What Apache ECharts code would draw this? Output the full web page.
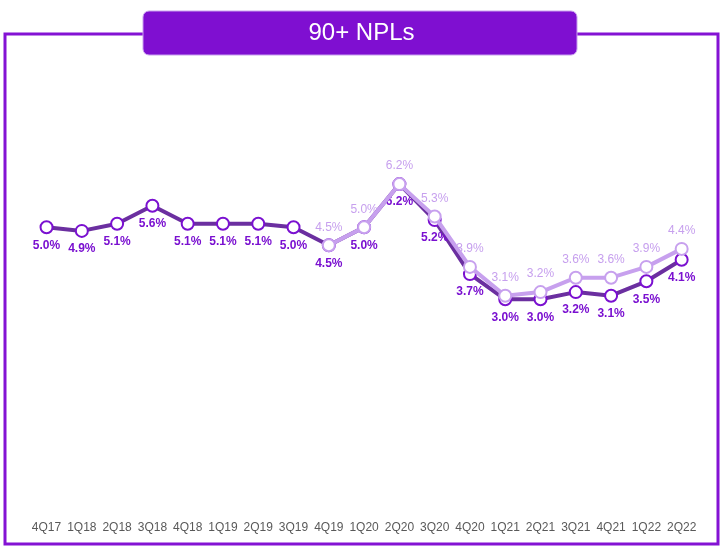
<!DOCTYPE html>
<html>
<head>
<meta charset="utf-8">
<script src="https://cdn.jsdelivr.net/npm/echarts@6/dist/echarts.min.js"></script>
<style>
html,body{margin:0;padding:0;background:#fff;}
#main{width:723px;height:551px;}
</style>
</head>
<body>
<div id="main"></div>
<script>
var categories = ['4Q17','1Q18','2Q18','3Q18','4Q18','1Q19','2Q19','3Q19','4Q19','1Q20','2Q20','3Q20','4Q20','1Q21','2Q21','3Q21','4Q21','1Q22','2Q22'];
var seriesDark = [5.0,4.9,5.1,5.6,5.1,5.1,5.1,5.0,4.5,5.0,6.2,5.2,3.7,3.0,3.0,3.2,3.1,3.5,4.1];
var seriesLight = [null,null,null,null,null,null,null,null,4.5,5.0,6.2,5.3,3.9,3.1,3.2,3.6,3.6,3.9,4.4];
var titleText = '90+ NPLs';

var chart = echarts.init(document.getElementById('main'), null, {renderer:'canvas'});
var fmt = function(p){ return p.value == null ? '' : p.value.toFixed(1) + '%'; };
chart.setOption({
  animation:false,
  graphic:[
    {type:'rect', z:0, shape:{x:5,y:34,width:713,height:510}, style:{fill:'none', stroke:'#8412d4', lineWidth:3}},
    {type:'rect', z:1, shape:{x:143,y:11,width:434,height:44,r:6}, style:{fill:'#7f0fd1', stroke:'#c9a0ee', lineWidth:1}},
    {type:'text', z:2, left:'center', top:21, style:{text:titleText, fill:'#ffffff', font:'24px "Liberation Sans", Arial, sans-serif', align:'center'}, x:360}
  ],
  grid:{left:28.9, right:23.7, top:119.3, bottom:35.7},
  xAxis:{
    type:'category', data:categories, boundaryGap:true,
    axisLine:{show:false}, axisTick:{show:false},
    axisLabel:{interval:0, margin:6, color:'#595959', fontSize:12, fontFamily:'"Liberation Sans", Arial, sans-serif'}
  },
  yAxis:{type:'value', min:-3, max:8, show:false, splitLine:{show:false}},
  series:[
    {
      type:'line', data:seriesDark, z:2,
      symbol:'circle', symbolSize:12,
      lineStyle:{color:'#6b2fa0', width:4},
      itemStyle:{color:'#ffffff', borderColor:'#7a10d0', borderWidth:2},
      label:{show:true, position:'bottom', formatter:fmt, color:'#7a10d0', fontWeight:'bold', fontSize:12, fontFamily:'"Liberation Sans", Arial, sans-serif'}
    },
    {
      type:'line', data:seriesLight, z:3,
      symbol:'circle', symbolSize:12,
      lineStyle:{color:'#c7a0ee', width:4},
      itemStyle:{color:'#ffffff', borderColor:'#c7a0ee', borderWidth:2},
      label:{show:true, position:'top', formatter:fmt, color:'#c7a0ee', fontSize:12, fontFamily:'"Liberation Sans", Arial, sans-serif'}
    }
  ]
});
</script>
</body>
</html>
